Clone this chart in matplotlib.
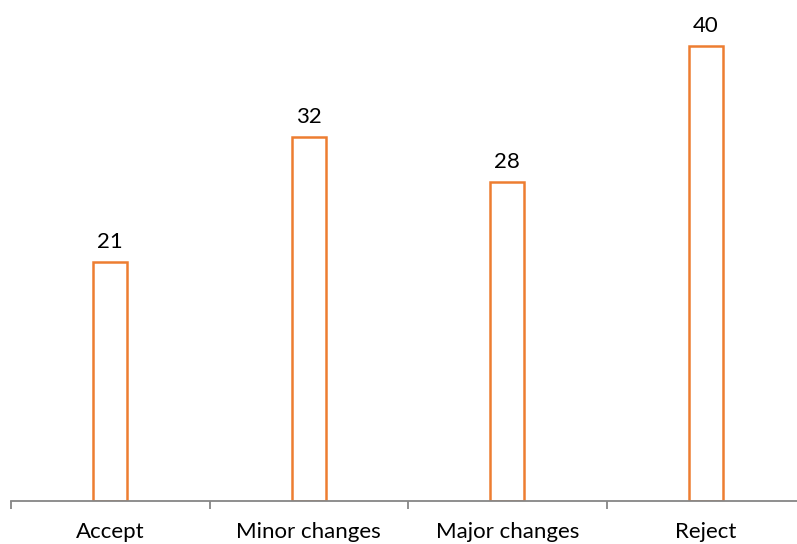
import matplotlib.pyplot as plt
import numpy as np

categories = ['Accept', 'Minor changes', 'Major changes', 'Reject']
counts = [21, 32, 28, 40]

plt.rcParams['font.family'] = ['Lato', 'DejaVu Sans']

fig = plt.figure(figsize=(7.97, 5.44), dpi=100)
# axes runs a bit past the right edge, like the original
ax = fig.add_axes([11 / 797, 43 / 544, 794 / 797, 501 / 544])

x = np.arange(len(categories))
bars = ax.bar(x, counts, width=0.17, color='white', edgecolor='#ED7D31', linewidth=1.8)

for rect, val in zip(bars, counts):
    ax.annotate(str(val), (rect.get_x() + rect.get_width() / 2, rect.get_height()),
                xytext=(0, 7), textcoords='offset points', ha='center', va='bottom',
                fontsize=16)

ax.set_xlim(-0.5, len(categories) - 0.5)
ax.set_ylim(0, 44)

for side in ['top', 'right', 'left']:
    ax.spines[side].set_visible(False)
ax.spines['bottom'].set_color('#868686')
ax.spines['bottom'].set_linewidth(1.3)
ax.set_yticks([])

ax.set_xticks(x)
ax.set_xticklabels(categories, fontsize=16)
ax.tick_params(axis='x', length=0, pad=15)
ax.set_xticks(np.arange(len(categories) + 1) - 0.5, minor=True)
ax.tick_params(axis='x', which='minor', length=6, width=1.3, color='#868686', direction='out')

plt.savefig('out.png')
